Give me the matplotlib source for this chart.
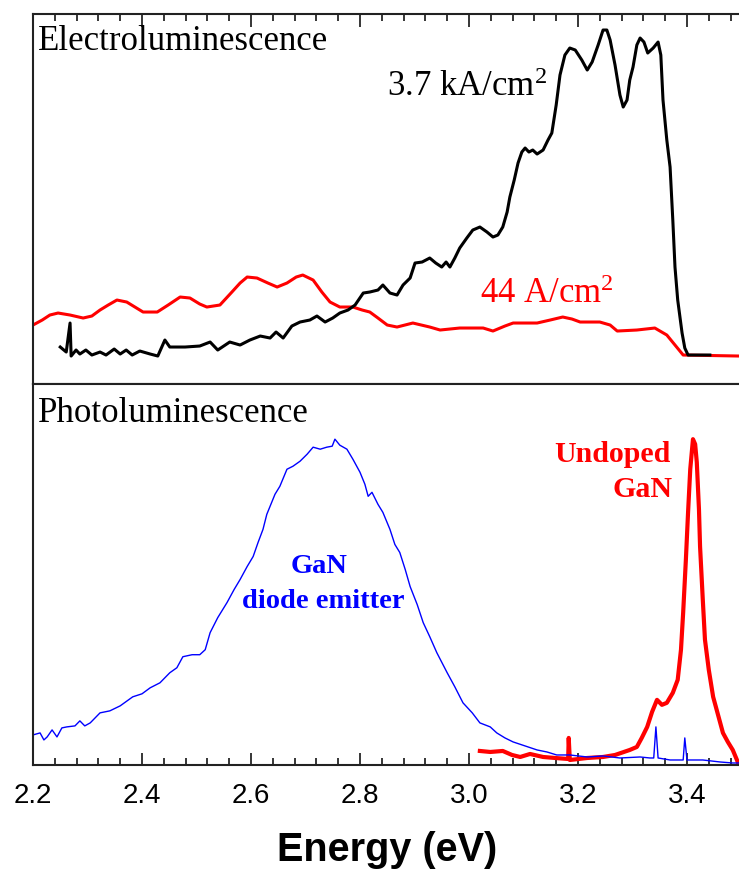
import numpy as np
import matplotlib.pyplot as plt
from matplotlib.ticker import MultipleLocator, FormatStrFormatter

plt.rcParams['mathtext.fontset'] = 'custom'
plt.rcParams['mathtext.rm'] = 'Liberation Serif'
plt.rcParams['mathtext.it'] = 'Liberation Serif:italic'

# --- Electroluminescence, 3.7 kA/cm2 (black) ---
el_high_e = [2.250, 2.261, 2.268, 2.270, 2.279, 2.286, 2.297, 2.308, 2.323, 2.334,
             2.349, 2.360, 2.371, 2.382, 2.396, 2.415, 2.429, 2.442, 2.451, 2.479,
             2.506, 2.525, 2.539, 2.561, 2.580, 2.598, 2.617, 2.635, 2.646, 2.659,
             2.675, 2.690, 2.708, 2.721, 2.736, 2.750, 2.763, 2.778, 2.791, 2.806,
             2.818, 2.833, 2.842, 2.855, 2.868, 2.879, 2.892, 2.901, 2.914, 2.928,
             2.939, 2.950, 2.958, 2.965, 2.974, 2.983, 2.996, 3.007, 3.020, 3.033,
             3.044, 3.053, 3.062, 3.070, 3.075, 3.083, 3.090, 3.097, 3.103, 3.110,
             3.117, 3.125, 3.136, 3.145, 3.152, 3.160, 3.167, 3.176, 3.185, 3.195,
             3.207, 3.217, 3.226, 3.237, 3.246, 3.253, 3.259, 3.268, 3.277, 3.283,
             3.290, 3.295, 3.301, 3.308, 3.314, 3.321, 3.328, 3.338, 3.347, 3.352,
             3.356, 3.363, 3.369, 3.374, 3.378, 3.383, 3.391, 3.396, 3.402, 3.442]
el_high_i = [37, 32, 61, 28, 34, 30, 34, 29, 32, 29,
             35, 30, 34, 29, 33, 30, 28, 44, 37, 37,
             38, 42, 34, 42, 39, 44, 48, 46, 52, 46,
             58, 62, 64, 68, 62, 66, 71, 74, 79, 91,
             92, 94, 99, 91, 89, 99, 106, 121, 122, 126,
             121, 117, 122, 117, 126, 136, 146, 154, 157, 152,
             147, 149, 157, 172, 187, 204, 221, 232, 236, 232,
             234, 230, 234, 244, 251, 279, 309, 329, 336, 334,
             324, 314, 322, 339, 354, 354, 344, 319, 289, 277,
             284, 304, 317, 339, 346, 342, 331, 336, 342, 329,
             284, 244, 217, 164, 117, 84, 51, 36, 29, 29]

# --- Electroluminescence, 44 A/cm2 (red) ---
el_low_e = [2.200, 2.217, 2.231, 2.246, 2.268, 2.292, 2.308, 2.323, 2.338, 2.354,
            2.372, 2.387, 2.402, 2.428, 2.448, 2.470, 2.488, 2.506, 2.519, 2.543,
            2.565, 2.580, 2.593, 2.611, 2.631, 2.648, 2.666, 2.683, 2.695, 2.714,
            2.730, 2.745, 2.763, 2.787, 2.804, 2.818, 2.833, 2.850, 2.868, 2.897,
            2.928, 2.947, 2.983, 3.026, 3.044, 3.066, 3.081, 3.125, 3.149, 3.172,
            3.189, 3.204, 3.240, 3.259, 3.272, 3.308, 3.341, 3.363, 3.378, 3.393,
            3.495, 3.500]
el_low_i = [59, 64, 69, 71, 69, 66, 68, 74, 79, 84,
            82, 77, 72, 72, 79, 87, 86, 80, 77, 79,
            92, 101, 107, 106, 101, 97, 101, 107, 109, 104,
            92, 82, 77, 77, 74, 72, 66, 59, 57, 61,
            57, 54, 56, 56, 53, 58, 61, 61, 64, 67,
            65, 62, 62, 59, 53, 54, 56, 49, 39, 29,
            28, 28]

# --- Photoluminescence, GaN diode emitter (blue) ---
pl_diode_e = [2.200, 2.213, 2.220, 2.226, 2.235, 2.244, 2.253, 2.262, 2.277, 2.286,
              2.295, 2.305, 2.323, 2.341, 2.360, 2.383, 2.400, 2.415, 2.433, 2.451,
              2.464, 2.475, 2.492, 2.506, 2.516, 2.525, 2.539, 2.556, 2.569, 2.580,
              2.593, 2.604, 2.613, 2.622, 2.629, 2.635, 2.644, 2.653, 2.666, 2.677,
              2.690, 2.703, 2.714, 2.727, 2.739, 2.749, 2.754, 2.763, 2.776, 2.787,
              2.800, 2.809, 2.815, 2.822, 2.833, 2.842, 2.855, 2.864, 2.873, 2.883,
              2.892, 2.905, 2.916, 2.928, 2.941, 2.960, 2.974, 2.989, 3.006, 3.020,
              3.039, 3.051, 3.066, 3.081, 3.103, 3.125, 3.143, 3.161, 3.185, 3.217,
              3.246, 3.277, 3.314, 3.332, 3.339, 3.343, 3.347, 3.369, 3.393, 3.396,
              3.400, 3.429, 3.461, 3.484, 3.500]
pl_diode_i = [30, 32, 25, 28, 35, 28, 37, 38, 39, 44,
              39, 42, 52, 54, 59, 68, 71, 77, 82, 92,
              97, 108, 110, 110, 115, 132, 147, 162, 175, 185,
              198, 208, 222, 235, 250, 258, 270, 278, 295, 298,
              303, 310, 317, 315, 317, 318, 325, 319, 315, 305,
              292, 280, 268, 272, 260, 252, 235, 220, 212, 195,
              178, 160, 142, 128, 112, 92, 78, 62, 52, 42,
              38, 32, 27, 23, 19, 15, 13, 10, 10, 8,
              9, 7, 8, 7, 7, 38, 7, 5, 5, 27,
              5, 5, 3, 2, 2]

# --- Photoluminescence, undoped GaN (red) ---
pl_gan_e = [3.020, 3.039, 3.062, 3.079, 3.094, 3.112, 3.136, 3.158, 3.182, 3.183,
            3.185, 3.217, 3.246, 3.268, 3.295, 3.308, 3.317, 3.327, 3.336, 3.345,
            3.354, 3.363, 3.374, 3.383, 3.389, 3.393, 3.398, 3.402, 3.406, 3.411,
            3.415, 3.418, 3.422, 3.424, 3.429, 3.433, 3.440, 3.448, 3.457, 3.466,
            3.475, 3.484, 3.494]
pl_gan_i = [14, 13, 14, 10, 8, 11, 8, 7, 6, 27,
            5, 7, 8, 10, 15, 18, 27, 38, 53, 65,
            60, 62, 72, 85, 115, 152, 205, 252, 295, 325,
            320, 302, 255, 218, 165, 125, 95, 68, 50, 32,
            23, 15, 2]

x_ticks = [2.2, 2.4, 2.6, 2.8, 3.0, 3.2, 3.4]

fig = plt.figure(figsize=(7.39, 8.71), dpi=100)
ax1 = fig.add_axes([0.04465, 0.5591, 0.9587, 0.4248])
ax2 = fig.add_axes([0.04465, 0.1217, 0.9587, 0.4374])

ax1.plot(el_low_e, el_low_i, color='#ff0000', lw=2.2)
ax1.plot(el_high_e, el_high_i, color='black', lw=2.2)
ax2.plot(pl_gan_e, pl_gan_i, color='#ff0000', lw=3.0)
ax2.plot(pl_diode_e, pl_diode_i, color='#0000ff', lw=1.0)

ax1.set_ylim(0, 370)
ax2.set_ylim(0, 380)
for ax in (ax1, ax2):
    ax.set_xlim(2.2, 3.5)
    ax.set_yticks([])
    ax.spines['right'].set_visible(False)
    for s in ('left', 'top', 'bottom'):
        ax.spines[s].set_linewidth(1.5)
        ax.spines[s].set_color('#222222')
    ax.xaxis.set_major_locator(MultipleLocator(0.2))
    ax.xaxis.set_minor_locator(MultipleLocator(0.04))

ax1.tick_params(axis='x', which='both', direction='in', top=True, bottom=False,
                labeltop=False, labelbottom=False, width=1.1)
ax1.tick_params(axis='x', which='major', length=9)
ax1.tick_params(axis='x', which='minor', length=5)

ax2.set_xticks(x_ticks)
ax2.xaxis.set_major_formatter(FormatStrFormatter('%.1f'))
ax2.tick_params(axis='x', which='both', direction='in', top=False, bottom=True, width=1.1)
ax2.tick_params(axis='x', which='major', length=9, pad=13, labelsize=20)
ax2.tick_params(axis='x', which='minor', length=5)
for lab in ax2.get_xticklabels():
    lab.set_fontfamily('Liberation Sans')
ax2.set_xlabel('Energy (eV)', fontsize=28.5, fontweight='bold',
               fontfamily='Liberation Sans', labelpad=16)

serif = 'Liberation Serif'
ax1.text(2.209, 334, 'Electroluminescence', fontsize=25, family=serif,
         ha='left', va='baseline')
ax1.text(2.850, 288, r'3.7 kA/cm$^2$', fontsize=25, family=serif,
         ha='left', va='baseline', color='black')
ax1.text(3.020, 81, r'44 A/cm$^2$', fontsize=25, family=serif,
         ha='left', va='baseline', color='#ff0000')

ax2.text(2.209, 342, 'Photoluminescence', fontsize=25, family=serif,
         ha='left', va='baseline')
ax2.text(2.725, 192, 'GaN', fontsize=20.5, family=serif, fontweight='bold',
         ha='center', va='baseline', color='#0000ff')
ax2.text(2.732, 157, 'diode emitter', fontsize=20.5, family=serif, fontweight='bold',
         ha='center', va='baseline', color='#0000ff')
ax2.text(3.369, 302, 'Undoped', fontsize=21.5, family=serif, fontweight='bold',
         ha='right', va='baseline', color='#ff0000')
ax2.text(3.374, 267, 'GaN', fontsize=21.5, family=serif, fontweight='bold',
         ha='right', va='baseline', color='#ff0000')

plt.savefig('out.png', dpi=100)
